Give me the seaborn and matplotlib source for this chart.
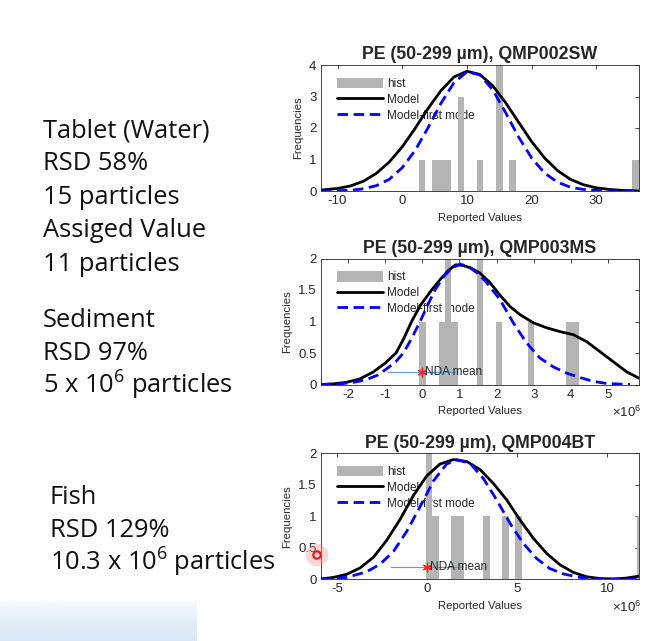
import numpy as np
import matplotlib
matplotlib.use('Agg')
import matplotlib.pyplot as plt
import seaborn as sns

# ---------------------------------------------------------------------------
# Datos
# ---------------------------------------------------------------------------

# Tablet (agua), QMP002SW -- valores reportados (particulas)
water_vals = [3, 5, 6, 7, 9, 9, 9, 12, 15, 15, 15, 15, 17, 36]
water_bin = 1.0
water_start = 2.55
water_x = [-12.6, -10, -8, -6, -4, -2, 0, 2, 4, 6, 8, 10, 12, 14, 16, 18,
           20, 22, 24, 26, 28, 30, 32, 34, 36.6]
water_model = [0.03, 0.08, 0.16, 0.31, 0.56, 0.92, 1.40, 1.99, 2.62, 3.19,
               3.62, 3.80, 3.70, 3.34, 2.80, 2.18, 1.57, 1.05, 0.65, 0.37,
               0.20, 0.10, 0.05, 0.02, 0.0]
water_first = [0.0, 0.01, 0.02, 0.07, 0.17, 0.37, 0.74, 1.29, 2.01, 2.79,
               3.44, 3.78, 3.69, 3.21, 2.48, 1.71, 1.05, 0.57, 0.28, 0.12,
               0.05, 0.02, 0.0, 0.0, 0.0]

# Sedimento, QMP003MS (x 10^6)
sed_vals = [0.01, 0.52, 0.69, 0.69, 0.87, 1.55, 1.55, 2.07, 2.93, 3.96, 4.13]
sed_bin = 0.172
sed_start = -0.08
sed_model_x = [-2.74, -2.4, -2.04, -1.68, -1.32, -1.0, -0.71, -0.5, -0.29,
               -0.05, 0.25, 0.5, 0.7, 0.9, 1.1, 1.3, 1.55, 1.82, 2.09, 2.36,
               2.63, 2.99, 3.35, 3.71, 4.07, 4.43, 4.79, 5.15, 5.51, 5.84]
sed_model = [0.0, 0.01, 0.035, 0.09, 0.2, 0.34, 0.5, 0.73, 1.0, 1.26, 1.5,
             1.68, 1.81, 1.9, 1.89, 1.85, 1.77, 1.62, 1.42, 1.24, 1.11, 0.98,
             0.90, 0.84, 0.79, 0.68, 0.52, 0.36, 0.20, 0.10]
sed_first_x = [-2.74, -2.2, -1.8, -1.5, -1.2, -0.96, -0.72, -0.51, -0.3,
               -0.06, 0.15, 0.34, 0.6, 0.8, 1.02, 1.25, 1.5, 1.73, 2.09,
               2.45, 2.81, 3.17, 3.53, 3.89, 4.25, 4.61, 4.97, 5.6]
sed_first = [0.0, 0.01, 0.04, 0.08, 0.15, 0.25, 0.36, 0.5, 0.72, 1.0, 1.27,
             1.5, 1.73, 1.85, 1.91, 1.87, 1.76, 1.62, 1.35, 0.98, 0.66, 0.42,
             0.28, 0.18, 0.11, 0.05, 0.016, 0.0]
sed_nda = [-0.92, 0.92]

# Pez, QMP004BT (x 10^6)
fish_vals = [0.09, 0.09, 0.44, 1.51, 1.86, 3.28, 4.35, 5.06, 11.8]
fish_bin = 0.355
fish_start = -0.09
fish_model_x = [-5.93, -5.22, -4.48, -3.74, -3.0, -2.26, -1.52, -0.78, -0.04,
                0.7, 1.44, 2.19, 2.93, 3.67, 4.41, 5.15, 5.89, 6.63, 7.37,
                8.11, 8.85, 9.59, 10.33, 11.07, 11.76]
fish_model = [0.005, 0.03, 0.08, 0.18, 0.35, 0.62, 0.95, 1.33, 1.64, 1.83,
              1.90, 1.87, 1.74, 1.52, 1.26, 0.94, 0.65, 0.41, 0.23, 0.11,
              0.04, 0.012, 0.005, 0.02, 0.05]
fish_first_x = [-5.93, -4.48, -3.37, -2.63, -1.89, -1.15, -0.41, 0.33, 1.07,
                1.63, 2.37, 3.11, 3.85, 4.59, 5.33, 6.07, 6.81, 7.56, 8.48,
                9.59, 11.07, 11.76]
fish_first = [0.0, 0.03, 0.12, 0.24, 0.44, 0.76, 1.15, 1.56, 1.83, 1.90,
              1.84, 1.60, 1.26, 0.89, 0.57, 0.33, 0.17, 0.085, 0.03, 0.005,
              0.0, 0.0]
fish_nda = [-2.0, 2.0]

# Media NDA (x 10^6) y altura de la marca.
nda_mean = 0.0
nda_y = 0.2

titulos = ['PE (50-299 µm), QMP002SW', 'PE (50-299 µm), QMP003MS',
           'PE (50-299 µm), QMP004BT']

# Texto del lado izquierdo.
bloque_agua = ['Tablet (Water)', 'RSD 58%', '15 particles', 'Assiged Value',
               '11 particles']
bloque_sed = ['Sediment', 'RSD 97%', '5 x 10$^{6}$ particles']
bloque_pez = ['Fish', 'RSD 129%', '10.3 x 10$^{6}$ particles']

# ---------------------------------------------------------------------------
# Estilo
# ---------------------------------------------------------------------------
sns.set_style('white')
plt.rcParams['font.family'] = ['Liberation Sans', 'DejaVu Sans']
plt.rcParams['mathtext.default'] = 'regular'

GRIS = '#b4b4b4'
EJE = '#262626'
W, H = 660, 641

fig = plt.figure(figsize=(6.6, 6.41), dpi=100)


def panel(rect, vals, binw, start, mx, my, fx, fy, titulo, xlim, ylim,
          xticks, yticks, ytl, nda=None, exponente=False):
    ax = fig.add_axes(rect)
    nb = int(round((max(vals) - start) / binw)) + 1
    sns.histplot(x=vals, binwidth=binw, binrange=(start, start + nb*binw),
                 color=GRIS, edgecolor='none', linewidth=0, alpha=1,
                 label='hist', ax=ax, zorder=1)
    sns.lineplot(x=mx, y=my, color='k', lw=2.0, label='Model', ax=ax,
                 zorder=3)
    sns.lineplot(x=fx, y=fy, color='#0000ff', lw=2.0,
                 label='Model-first mode', ax=ax, zorder=3)
    ax.lines[-1].set_dashes((3.8, 2.0))

    # Media NDA.
    if nda is not None:
        sns.lineplot(x=nda, y=[nda_y, nda_y], color='#5aa0d6', lw=0.8,
                     ax=ax, zorder=2, legend=False)
        ax.scatter([nda_mean], [nda_y], marker=(6, 2, 0), s=40,
                   color='#ff2020', linewidths=0.9, zorder=4)
        ax.annotate('NDA mean', (nda_mean, nda_y), xytext=(2, 0),
                    textcoords='offset points', ha='left', va='center',
                    fontsize=8.5, color='#262626', zorder=4)

    # Leyenda (hist, Model, Model-first mode).
    h, l = ax.get_legend_handles_labels()
    orden = [l.index(k) for k in ['hist', 'Model', 'Model-first mode']]
    leg = ax.legend([h[i] for i in orden], [l[i] for i in orden],
                    loc='upper left', bbox_to_anchor=(0.05, 0.9),
                    frameon=False, fontsize=8.5, handlelength=3.9,
                    handleheight=1.0, handletextpad=0.35, labelspacing=0.3,
                    borderpad=0, borderaxespad=0)
    leg.set_zorder(0.5)

    ax.set_xlim(xlim)
    ax.set_ylim(ylim)
    ax.set_xticks(xticks, [f'{t:g}' for t in xticks])
    ax.set_yticks(yticks, ytl)
    ax.tick_params(direction='in', top=True, right=True, length=3,
                   width=0.6, labelsize=9.5, colors=EJE, pad=3)
    for s in ax.spines.values():
        s.set_color(EJE)
        s.set_linewidth(0.6)
    ax.set_xlabel('Reported Values', fontsize=8.2, color=EJE)
    ax.set_ylabel('Frequencies', fontsize=8.2, color=EJE)
    ax.set_title(titulo, fontsize=12.8, fontweight='bold', pad=4)
    if exponente:
        ax.annotate('×10$^{6}$', (1, 0), xycoords='axes fraction',
                    xytext=(2, -20), textcoords='offset points', ha='right',
                    va='center', fontsize=9.5, color=EJE)
    return ax


x0 = 320.7 / W
ancho = (639 - 320.7) / W
alto = 126 / H

panel([x0, 1 - 191 / H, ancho, alto], water_vals, water_bin, water_start,
      water_x, water_model, water_x, water_first, titulos[0],
      (-12.6, 36.6), (0, 4), [-10, 0, 10, 20, 30], [0, 1, 2, 3, 4],
      ['0', '1', '2', '3', '4'])

panel([x0, 1 - 384.5 / H, ancho, alto], sed_vals, sed_bin, sed_start,
      sed_model_x, sed_model, sed_first_x, sed_first, titulos[1],
      (-2.74, 5.84), (0, 2), [-2, -1, 0, 1, 2, 3, 4, 5],
      [0, 0.5, 1, 1.5, 2], ['0', '0.5', '1', '1.5', '2'],
      nda=sed_nda, exponente=True)

panel([x0, 1 - 579.3 / H, ancho, alto], fish_vals, fish_bin, fish_start,
      fish_model_x, fish_model, fish_first_x, fish_first, titulos[2],
      (-5.93, 11.76), (0, 2), [-5, 0, 5, 10],
      [0, 0.5, 1, 1.5, 2], ['0', '0.5', '1', '1.5', '2'],
      nda=fish_nda, exponente=True)

# Texto de la diapositiva.
def bloque(lineas, x, y0, paso=33.4):
    for i, t in enumerate(lineas):
        fig.text(x / W, 1 - (y0 + i*paso) / H, t, fontsize=18.4,
                 family=['Open Sans', 'DejaVu Sans'], va='baseline',
                 ha='left', color='#111111')

bloque(bloque_agua, 43, 137)
bloque(bloque_sed, 43, 327)
bloque(bloque_pez, 50, 504)

# Capa superior: franja azul clara y marca del cursor.
ov = fig.add_axes([0, 0, 1, 1], zorder=10)
ov.patch.set_alpha(0)
ov.axis('off')
grad = np.ones((40, 1, 4))
grad[..., 0] = 218 / 255
grad[..., 1] = 232 / 255
grad[..., 2] = 246 / 255
grad[:, 0, 3] = np.linspace(0, 1, 40) ** 0.6
ov.imshow(grad, extent=(0, 197, 641, 598), aspect='auto',
          interpolation='bilinear')
ov.scatter([317], [555], s=260, color='#ff8a8a', alpha=0.35,
           edgecolors='none')
ov.scatter([317], [555], s=28, facecolors='none', edgecolors='#e8201a',
           linewidths=1.6)
ov.set_xlim(0, W)
ov.set_ylim(H, 0)

fig.savefig('out.png', dpi=100)
